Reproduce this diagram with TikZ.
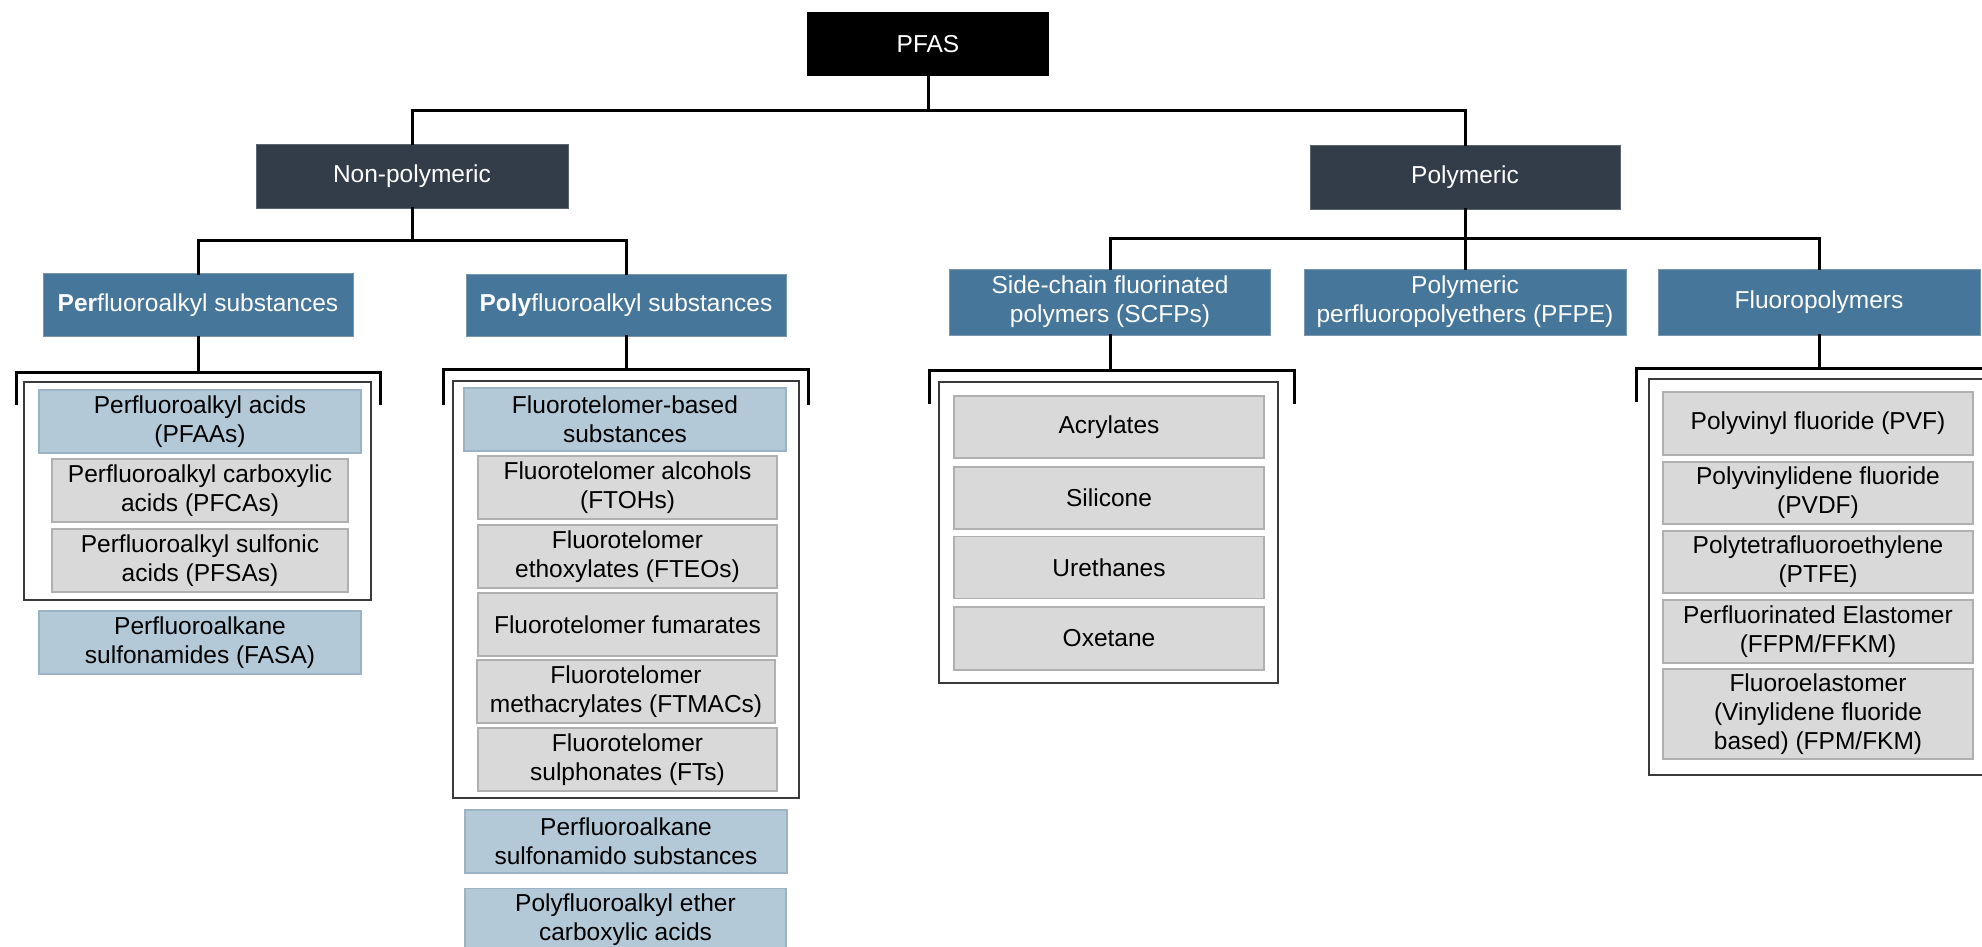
\documentclass[tikz,border=0pt]{standalone}
\usepackage{fontspec}
\setmainfont{Liberation Sans}
\definecolor{topc}{HTML}{000000}
\definecolor{darkc}{HTML}{333D49}
\definecolor{midc}{HTML}{46769A}
\definecolor{midb}{HTML}{3E6A8C}
\definecolor{lightc}{HTML}{B3C9D7}
\definecolor{lightb}{HTML}{9BB3C4}
\definecolor{greyc}{HTML}{D9D9D9}
\definecolor{greyb}{HTML}{B0B0B0}
\definecolor{contc}{HTML}{3A3A3A}
\begin{document}
\begin{tikzpicture}[x=1pt,y=-1pt,
  base/.style={rectangle,inner sep=0pt,align=center,font=\fontsize{24.5}{28.8}\selectfont},
  topbox/.style={base,fill=topc,text=white},
  darkbox/.style={base,fill=darkc,draw=darkc!80!white,line width=1pt,text=white},
  midbox/.style={base,fill=midc,draw=midb!70!white,line width=1pt,text=white},
  lightbox/.style={base,fill=lightc,draw=lightb,line width=1.2pt,text=black},
  greybox/.style={base,fill=greyc,draw=greyb,line width=1.5pt,text=black},
  cont/.style={rectangle,inner sep=0pt,draw=contc,line width=1.8pt,fill=white},
  conn/.style={draw=black,line width=3pt,line cap=rect},
]
\useasboundingbox (0,0) rectangle (1982,946);
\clip (0,0) rectangle (1982,946);
\fill[white] (0,0) rectangle (1982,946);

% level 0-2
\node[topbox,minimum width=242pt,minimum height=64pt] (pfas) at (928,44) {PFAS};
\node[darkbox,minimum width=312pt,minimum height=64pt] (nonpoly) at (412,176) {Non-polymeric};
\node[darkbox,minimum width=310pt,minimum height=64pt] (poly) at (1465,177) {Polymeric};

\node[midbox,minimum width=310pt,minimum height=63pt] (per) at (198,305) {\textbf{Per}fluoroalkyl substances};
\node[midbox,minimum width=320pt,minimum height=62pt] (polyf) at (626,305) {\textbf{Poly}fluoroalkyl substances};
\node[midbox,minimum width=321pt,minimum height=66pt] (scfp) at (1110,302) {Side-chain fluorinated\\polymers (SCFPs)};
\node[midbox,minimum width=322pt,minimum height=66pt] (pfpe) at (1465,302) {Polymeric\\perfluoropolyethers (PFPE)};
\node[midbox,minimum width=322pt,minimum height=66pt] (fluoro) at (1819,302) {Fluoropolymers};

% tree connectors
\coordinate (j0) at (928,110);
\coordinate (j1) at (412,240);
\coordinate (j2) at (1465,238);
\draw[conn] (pfas.south) -- (j0);
\draw[conn] (nonpoly.north) -- (nonpoly.north |- j0) -- (poly.north |- j0) -- (poly.north);
\draw[conn] (nonpoly.south) -- (j1);
\draw[conn] (per.north) -- (per.north |- j1) -- (polyf.north |- j1) -- (polyf.north);
\draw[conn] (poly.south) -- (j2) -- (pfpe.north);
\draw[conn] (scfp.north) -- (scfp.north |- j2) -- (fluoro.north |- j2) -- (fluoro.north);

% containers
\node[cont,minimum width=347pt,minimum height=218pt] (c1) at (197.5,491) {};
\node[cont,minimum width=346pt,minimum height=417pt] (c2) at (626,589.5) {};
\node[cont,minimum width=339pt,minimum height=301pt] (c3) at (1108.5,532.5) {};
\node[cont,minimum width=340pt,minimum height=396pt] (c4) at (1819,577) {};

% brackets
\coordinate (b1l) at (16,403); \coordinate (b1r) at (380,403); \coordinate (b1m) at (198,372);
\coordinate (b2l) at (443,403); \coordinate (b2r) at (808,403); \coordinate (b2m) at (626,369);
\coordinate (b3l) at (929,402); \coordinate (b3r) at (1294,402); \coordinate (b3m) at (1110,370);
\coordinate (b4l) at (1636,400); \coordinate (b4r) at (2002,400); \coordinate (b4m) at (1819,368);
\draw[conn] (per.south) -- (b1m);
\draw[conn] (b1l) -- (b1l |- b1m) -- (b1r |- b1m) -- (b1r);
\draw[conn] (polyf.south) -- (b2m);
\draw[conn] (b2l) -- (b2l |- b2m) -- (b2r |- b2m) -- (b2r);
\draw[conn] (scfp.south) -- (b3m);
\draw[conn] (b3l) -- (b3l |- b3m) -- (b3r |- b3m) -- (b3r);
\draw[conn] (fluoro.south) -- (b4m);
\draw[conn] (b4l) -- (b4l |- b4m) -- (b4r |- b4m) -- (b4r);

% perfluoroalkyl column
\node[lightbox,minimum width=322pt,minimum height=63pt] (pfaas) at (200,421.5) {Perfluoroalkyl acids\\(PFAAs)};
\node[greybox,minimum width=296pt,minimum height=63pt] (pfcas) at (200,490.5) {Perfluoroalkyl carboxylic\\acids (PFCAs)};
\node[greybox,minimum width=296pt,minimum height=63pt] (pfsas) at (200,560.5) {Perfluoroalkyl sulfonic\\acids (PFSAs)};
\node[lightbox,minimum width=322pt,minimum height=63pt] (fasa) at (200,642.5) {Perfluoroalkane\\sulfonamides (FASA)};

% polyfluoroalkyl column
\node[lightbox,minimum width=322pt,minimum height=63pt] (ftb) at (625,419.5) {Fluorotelomer-based\\substances};
\node[greybox,minimum width=299pt,minimum height=63pt] (ftoh) at (627.5,487.5) {Fluorotelomer alcohols\\(FTOHs)};
\node[greybox,minimum width=299pt,minimum height=63pt] (fteo) at (627.5,556.5) {Fluorotelomer\\ethoxylates (FTEOs)};
\node[greybox,minimum width=299pt,minimum height=63pt] (fum) at (627.5,624.5) {Fluorotelomer fumarates};
\node[greybox,minimum width=298pt,minimum height=63pt] (ftmac) at (626,691.5) {Fluorotelomer\\methacrylates (FTMACs)};
\node[greybox,minimum width=299pt,minimum height=63pt] (fts) at (627.5,759.5) {Fluorotelomer\\sulphonates (FTs)};
\node[lightbox,minimum width=322pt,minimum height=63pt] (pfasub) at (626,841.5) {Perfluoroalkane\\sulfonamido substances};
\node[lightbox,minimum width=321pt,minimum height=63pt] (pfeca) at (625.5,920) {Polyfluoroalkyl ether\\carboxylic acids};

% SCFP column
\node[greybox,minimum width=310pt,minimum height=62pt] (acr) at (1109,427) {Acrylates};
\node[greybox,minimum width=310pt,minimum height=62pt] (sil) at (1109,498) {Silicone};
\node[greybox,minimum width=310pt,minimum height=62pt] (ure) at (1109,567.5) {Urethanes};
\node[greybox,minimum width=310pt,minimum height=63pt] (oxe) at (1109,638.5) {Oxetane};

% fluoropolymers column
\node[greybox,minimum width=310pt,minimum height=63pt] (pvf) at (1818,423.5) {Polyvinyl fluoride (PVF)};
\node[greybox,minimum width=310pt,minimum height=62pt] (pvdf) at (1818,493) {Polyvinylidene fluoride\\(PVDF)};
\node[greybox,minimum width=310pt,minimum height=62pt] (ptfe) at (1818,562) {Polytetrafluoroethylene\\(PTFE)};
\node[greybox,minimum width=310pt,minimum height=63pt] (ffpm) at (1818,631.5) {Perfluorinated Elastomer\\(FFPM/FFKM)};
\node[greybox,minimum width=310pt,minimum height=90pt] (fkm) at (1818,714) {Fluoroelastomer\\(Vinylidene fluoride\\based) (FPM/FKM)};
\end{tikzpicture}
\end{document}
